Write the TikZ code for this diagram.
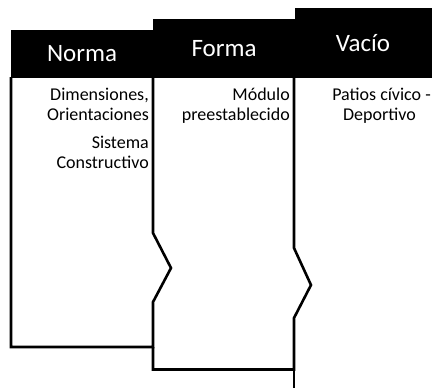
\documentclass[tikz,border=0pt]{standalone}
\usepackage{fontspec}
\setmainfont{Carlito}
\begin{document}
\begin{tikzpicture}[x=1pt,y=-1pt,
  hdr/.style={fill=black,draw=none,text=white,inner sep=0pt,font=\fontsize{25}{30}\selectfont},
  body/.style={inner sep=0pt,anchor=base east,font=\fontsize{18}{21}\selectfont},
  edge/.style={line width=2.6pt,line join=miter}]
\useasboundingbox[fill=white] (0,0) rectangle (432,388);
% headers
\fill[black] (11,30) rectangle (153.5,78);
\fill[black] (153,18.5) rectangle (295,78);
\fill[black] (294.5,7.5) rectangle (432,78);
\node[hdr,fill=none] (hn) at (82,54) {Norma};
\node[hdr,fill=none] (hf) at (224,48.5) {Forma};
\node[hdr,fill=none] (hv) at (363,43) {Vacío};
% outlines
\coordinate (a1) at (11,77);
\draw[edge] (11,77) -- (11,347) -- (153,347) -- (153,302) -- (171,268) -- (153,233) -- (153,77);
\draw[edge] (153,347) -- (153,369.5) -- (294,369.5) -- (294,318) -- (311,285) -- (294,248) -- (294,77);
\draw[edge] (294,369.5) -- (294,388);
% texts
\node[body] (t1) at (149,100) {Dimensiones,};
\node[body] (t2) at (149,120) {Orientaciones};
\node[body] (t3) at (149,148) {Sistema};
\node[body] (t4) at (149,168) {Constructivo};
\node[body] (t5) at (290,100) {Módulo};
\node[body] (t6) at (290,120) {preestablecido};
\node[body] (t7) at (431,100) {Patios cívico -};
\node[body] (t8) at (416,120) {Deportivo};
\end{tikzpicture}
\end{document}
